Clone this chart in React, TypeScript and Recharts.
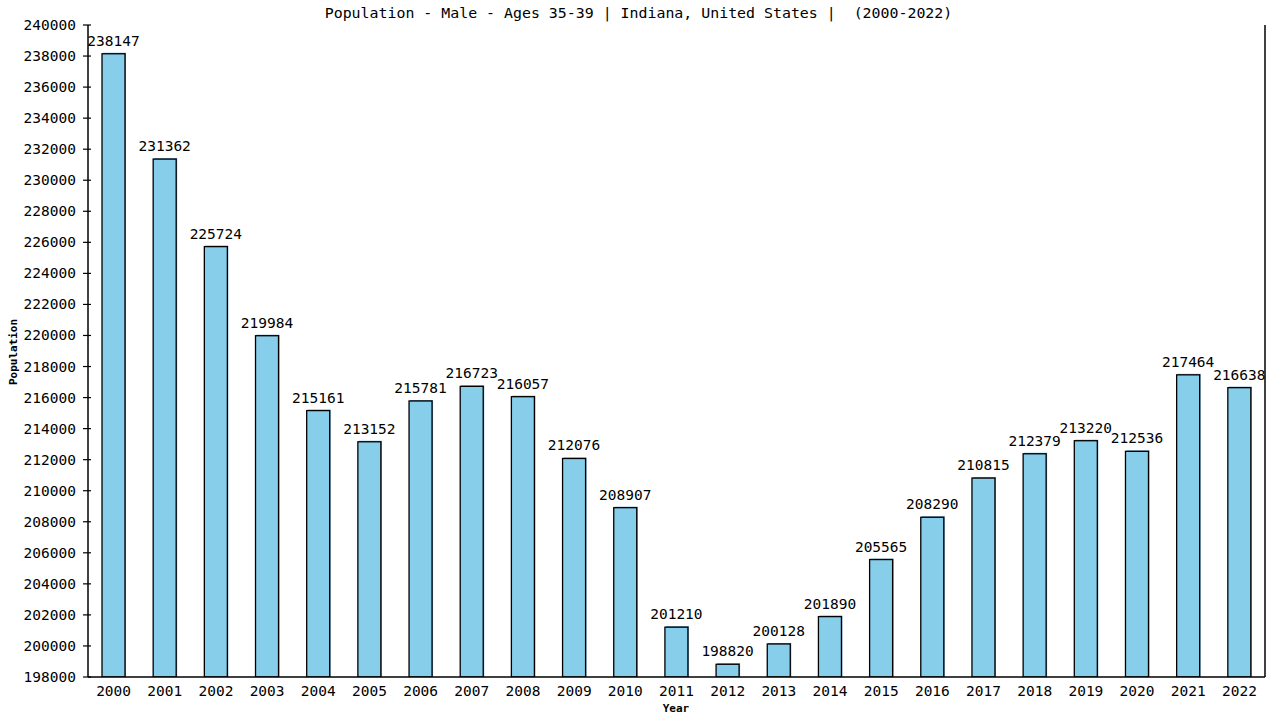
import React from 'react';
import { BarChart, Bar, XAxis, YAxis, LabelList, Customized } from 'recharts';

const years = ['2000','2001','2002','2003','2004','2005','2006','2007','2008','2009','2010','2011','2012','2013','2014','2015','2016','2017','2018','2019','2020','2021','2022'];
const population = [238147,231362,225724,219984,215161,213152,215781,216723,216057,212076,208907,201210,198820,200128,201890,205565,208290,210815,212379,213220,212536,217464,216638];
const yTicks = [198000,200000,202000,204000,206000,208000,210000,212000,214000,216000,218000,220000,222000,224000,226000,228000,230000,232000,234000,236000,238000,240000];

const titleText = 'Population - Male - Ages 35-39 | Indiana, United States |  (2000-2022)';
const FONT = '"DejaVu Sans Mono", monospace';

const data = years.map((y, i) => ({ year: y, value: population[i] }));

const BarShape = (props: any) => {
  const { x, y, width, height } = props;
  if (height == null || height <= 0) return null;
  return (
    <g>
      <rect x={x + 1} y={y - 1} width={width} height={height + 1} fill="#6b9cc0" />
      <rect x={x} y={y} width={width} height={height} fill="#87CEEB" stroke="#000" strokeWidth={1.3} />
    </g>
  );
};

const YTick = (props: any) => {
  const { y, payload } = props;
  return (
    <g>
      <line x1={83} x2={91} y1={y} y2={y} stroke="#000" strokeWidth={1.2} />
      <text x={76} y={y + 5} textAnchor="end" fontFamily={FONT} fontSize={14.5} fill="#000">{payload.value}</text>
    </g>
  );
};

const XTick = (props: any) => {
  const { x, y, payload } = props;
  return (
    <text x={x} y={y + 11} textAnchor="middle" fontFamily={FONT} fontSize={14.5} fill="#000">{payload.value}</text>
  );
};

const Titles = () => (
  <g>
    <text x={638.5} y={18} textAnchor="middle" fontFamily={FONT} fontSize={14.9} fill="#000" xmlSpace="preserve" style={{ whiteSpace: 'pre' }}>{titleText}</text>
    <text x={17} y={352} textAnchor="middle" transform="rotate(-90 17 352)" fontFamily={FONT} fontSize={11} fontWeight="bold" fill="#000">Population</text>
    <text x={676} y={712} textAnchor="middle" fontFamily={FONT} fontSize={11} fontWeight="bold" fill="#000">Year</text>
  </g>
);

export default function App() {
  return (
    <div style={{ position: 'absolute', left: 0, top: 0, width: 1280, height: 720, background: '#fff' }}>
      <BarChart width={1280} height={720} data={data} margin={{ top: 25, right: 0, bottom: 0, left: 0 }} barCategoryGap={0}>
        <XAxis dataKey="year" height={43} tick={<XTick />} tickLine={false} axisLine={{ stroke: '#000', strokeWidth: 1.5 }} interval={0} />
        <YAxis yAxisId="l" width={88} domain={[198000, 240000]} ticks={yTicks} allowDataOverflow tick={<YTick />} tickLine={false} axisLine={{ stroke: '#000', strokeWidth: 1.5 }} interval={0} />
        <YAxis yAxisId="r" orientation="right" width={15} domain={[198000, 240000]} tick={false} tickLine={false} axisLine={{ stroke: '#000', strokeWidth: 1.5 }} />
        <Bar yAxisId="l" dataKey="value" barSize={23} shape={<BarShape />} isAnimationActive={false}>
          <LabelList dataKey="value" position="top" offset={8} fontFamily={FONT} fontSize={14.5} fill="#000" />
        </Bar>
        <Customized component={Titles} />
      </BarChart>
    </div>
  );
}
